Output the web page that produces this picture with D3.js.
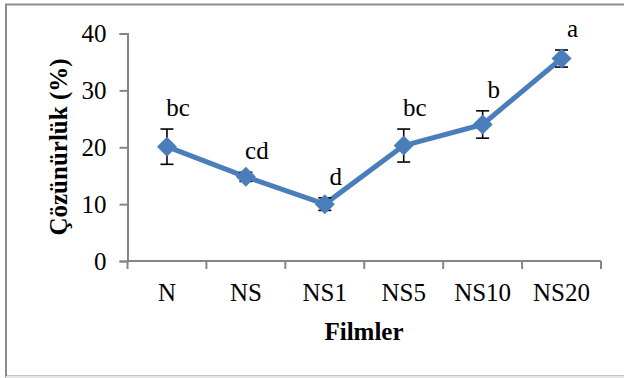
<!DOCTYPE html>
<meta charset="utf-8">
<style>
  body { margin: 0; background: #fff; }
  svg text { font-family: "Liberation Serif", "Times New Roman", serif; fill: #000; font-size: 25px; }
  .axis path, .axis line { stroke: #868686; stroke-width: 2px; }
  .bold { font-weight: bold; }
</style>
<body>
<svg id="chart" width="624" height="378"></svg>
<script src="https://d3js.org/d3.v7.min.js"></script>
<script>
  // data
  var films   = ['N', 'NS', 'NS1', 'NS5', 'NS10', 'NS20'];
  var values  = [20.1, 14.8, 10.0, 20.3, 24.0, 35.6];
  var errors  = [3.1, 0.8, 1.1, 2.9, 2.4, 1.5];
  var letters = ['bc', 'cd', 'd', 'bc', 'b', 'a'];
  var yTicks  = [0, 10, 20, 30, 40];

  var svg = d3.select('#chart');

  // outer frame
  svg.append('rect')
    .attr('x', 6).attr('y', 4.5)
    .attr('width', 640).attr('height', 372)
    .attr('fill', 'none')
    .attr('stroke', '#8c8c8c')
    .attr('stroke-width', 2);
  svg.append('line')
    .attr('x1', 6).attr('x2', 624)
    .attr('y1', 377).attr('y2', 377)
    .attr('stroke', '#e6e6e6').attr('stroke-width', 2);

  var xScale = d3.scaleBand()
    .domain(films)
    .range([127.5, 601]);

  var yScale = d3.scaleLinear()
    .domain([0, 40])
    .range([261, 33.5]);

  var cx = function(i) { return xScale(films[i]) + xScale.bandwidth() / 2; };

  // y axis
  var yAxis = svg.append('g')
    .attr('class', 'axis')
    .attr('transform', 'translate(127.5,0)')
    .call(d3.axisLeft(yScale).tickValues(yTicks).tickSize(8).tickPadding(13));
  yAxis.attr('font-family', null).attr('font-size', null);
  yAxis.selectAll('text').attr('dy', '0.33em');

  // x axis: ticks on band boundaries
  var xAxis = svg.append('g')
    .attr('class', 'axis')
    .attr('transform', 'translate(0,261)');
  xAxis.append('path')
    .attr('d', 'M' + xScale.range()[0] + ',0H' + xScale.range()[1]);
  var bounds = films.map(function(f) { return xScale(f); }).concat([xScale.range()[1]]);
  xAxis.selectAll('line.tk')
    .data(bounds)
    .enter().append('line')
      .attr('class', 'tk')
      .attr('x1', function(d) { return d; })
      .attr('x2', function(d) { return d; })
      .attr('y1', 0).attr('y2', 8);
  xAxis.selectAll('text')
    .data(films)
    .enter().append('text')
      .attr('x', function(d, i) { return cx(i); })
      .attr('y', 40)
      .attr('text-anchor', 'middle')
      .text(function(d) { return d; });

  // axis titles
  svg.append('text')
    .attr('class', 'bold')
    .attr('transform', 'translate(67,147) rotate(-90)')
    .attr('text-anchor', 'middle')
    .text('Çözünürlük (%)');
  svg.append('text')
    .attr('class', 'bold')
    .attr('x', 364).attr('y', 340)
    .attr('text-anchor', 'middle')
    .text('Filmler');

  // line
  var line = d3.line()
    .x(function(d, i) { return cx(i); })
    .y(function(d) { return yScale(d); });
  svg.append('path')
    .datum(values)
    .attr('d', line)
    .attr('fill', 'none')
    .attr('stroke', '#4a7ebb')
    .attr('stroke-width', 5)
    .attr('stroke-linejoin', 'round');

  // error bars
  var eb = svg.append('g')
    .attr('stroke', '#000')
    .attr('stroke-width', 1.6);
  values.forEach(function(v, i) {
    var x = cx(i), t = yScale(v + errors[i]), b = yScale(v - errors[i]);
    eb.append('line').attr('x1', x).attr('x2', x).attr('y1', t).attr('y2', b);
    eb.append('line').attr('x1', x - 6.5).attr('x2', x + 6.5).attr('y1', t).attr('y2', t);
    eb.append('line').attr('x1', x - 6.5).attr('x2', x + 6.5).attr('y1', b).attr('y2', b);
  });

  // diamond markers
  svg.selectAll('path.mk')
    .data(values)
    .enter().append('path')
      .attr('class', 'mk')
      .attr('d', 'M0,-10L10,0L0,10L-10,0Z')
      .attr('transform', function(d, i) { return 'translate(' + cx(i) + ',' + yScale(d) + ')'; })
      .attr('fill', '#4a7ebb');

  // significance letters
  svg.selectAll('text.lt')
    .data(letters)
    .enter().append('text')
      .attr('class', 'lt')
      .attr('x', function(d, i) { return cx(i) + 11; })
      .attr('y', function(d, i) { return yScale(values[i] + errors[i]) - 13; })
      .attr('text-anchor', 'middle')
      .text(function(d) { return d; });
</script>
</body>
